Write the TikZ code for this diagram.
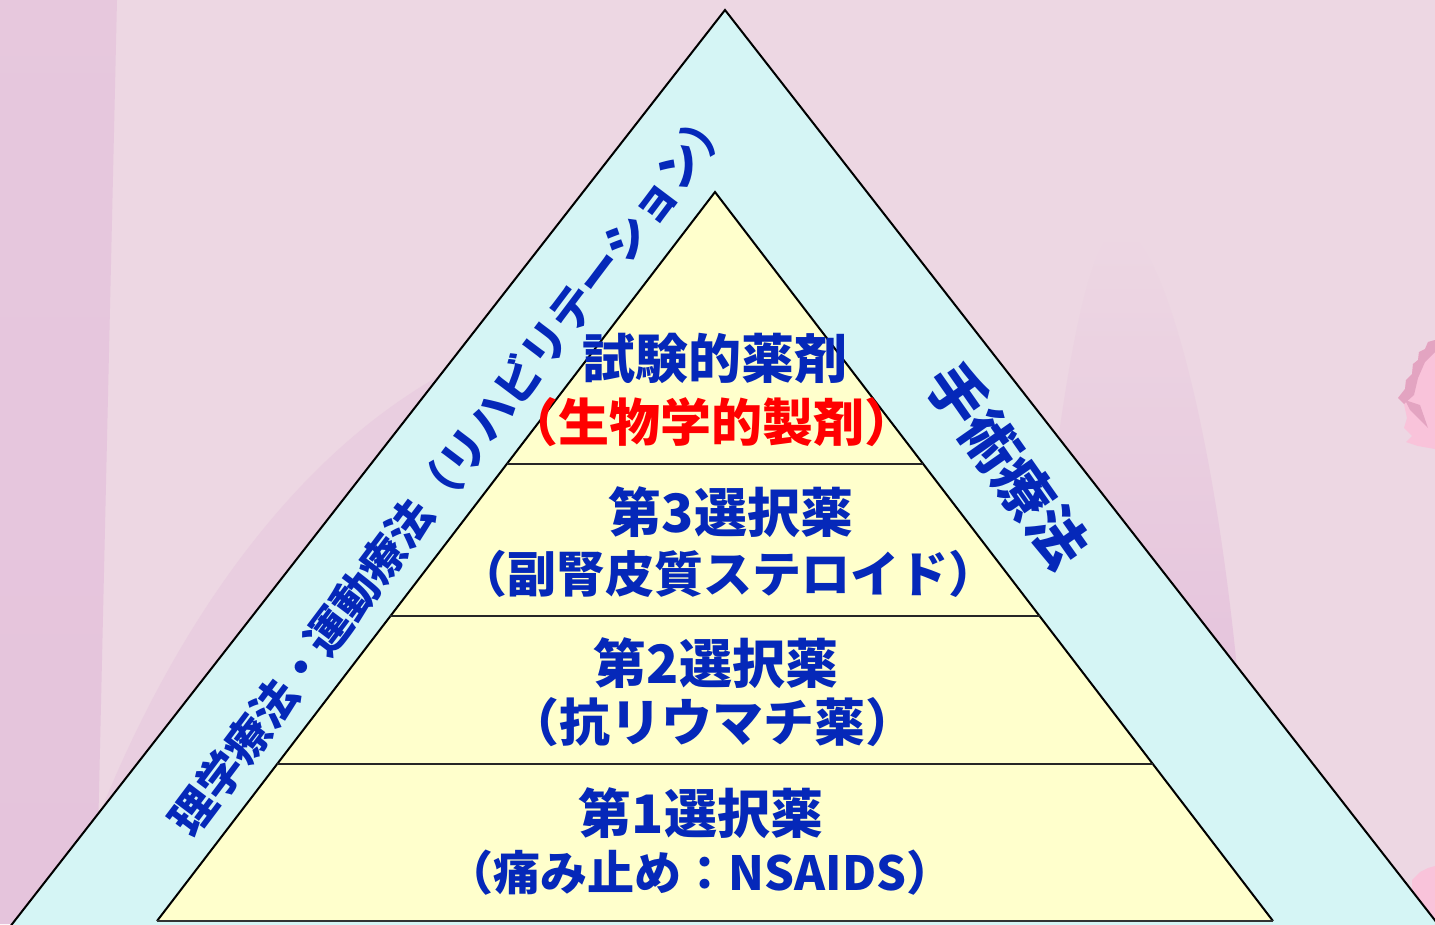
\documentclass[tikz,border=0pt]{standalone}
\usepackage{fontspec}
\usetikzlibrary{calc}
\newfontfamily\jpfont{Noto Sans CJK JP}
\definecolor{bgpink}{HTML}{EDD7E3}
\definecolor{stripe}{HTML}{E5C4DC}
\definecolor{conepink}{HTML}{E5C3DC}
\definecolor{bandcyan}{HTML}{D5F5F5}
\definecolor{stepyellow}{HTML}{FFFFCC}
\definecolor{textblue}{HTML}{0528B9}
\definecolor{textred}{HTML}{FF0000}
\definecolor{petal}{HTML}{F9C3DA}
\definecolor{petaldark}{HTML}{E3A4C1}
\newcommand\jpsize[1]{\jpfont\bfseries\fontsize{#1}{#1}\selectfont}
\tikzset{
  edge/.style={draw=black, line width=2pt, line join=miter},
  divider/.style={draw=black!85, line width=1.5pt},
  steptext/.style={text=textblue, font=\jpsize{53}, inner sep=0pt},
  subtext/.style={text=textblue, font=\jpsize{49}, inner sep=0pt},
  sidetext/.style={text=textblue, font=\jpsize{45}, inner sep=0pt},
}
\begin{document}
\begin{tikzpicture}[x=1pt,y=-1pt]
\useasboundingbox (0,0) rectangle (1435,924);
\clip (0,0) rectangle (1435,924);
% background
\fill[bgpink] (0,0) rectangle (1435,924);
\shade[top color=stripe!80!bgpink, bottom color=stripe] (0,0) -- (117,0) -- (96,924) -- (0,924) -- cycle;
\shade[top color=bgpink, bottom color=conepink] (1030,700) .. controls (1060,360) and (1090,230) .. (1120,230) .. controls (1160,230) and (1215,420) .. (1240,700) -- cycle;
\fill[conepink!45!bgpink] (60,924) .. controls (150,640) and (300,440) .. (470,360) -- (470,924) -- cycle;
% flowers at the right edge
\fill[petal] (1435,340) -- (1428,342) -- (1425,349) -- (1419,352) -- (1418,360) -- (1413,364) -- (1412,374) -- (1406,380) -- (1405,389) -- (1398,398) -- (1404,404) -- (1407,418) -- (1404,428) -- (1412,436) -- (1406,442) -- (1418,446) -- (1435,449) -- cycle;
\fill[petaldark] (1435,340) -- (1428,342) -- (1425,349) -- (1419,352) -- (1418,360) -- (1413,364) -- (1412,374) -- (1406,380) -- (1405,389) -- (1398,398) -- (1404,404) -- (1414,395) -- (1418,378) -- (1425,362) -- (1435,352) -- cycle;
\fill[petaldark] (1405,400) -- (1420,405) -- (1428,428) -- (1420,420) -- (1410,410) -- cycle;
\fill[petal] (1412,880) -- (1420,872) -- (1428,868) -- (1435,866) -- (1435,924) -- (1412,924) -- cycle;
% outer band and inner pyramid
\coordinate (outA) at (725,10);
\coordinate (outL) at (-44,996);
\coordinate (outR) at (1494,996);
\fill[bandcyan] (outA) -- (outL) -- (outR) -- cycle;
\draw[edge] (outL) -- (outA) -- (outR);
\coordinate (inA) at (715,192);
\coordinate (inL) at (157,921);
\coordinate (inR) at (1273,921);
\fill[stepyellow] (inA) -- (inL) -- (inR) -- cycle;
\draw[edge] (inL) -- (inA) -- (inR);
\draw[draw=black!80, line width=2.6pt] (inL) -- (inR);
% level dividers
\foreach \t/\n in {0.3731/a, 0.5816/b, 0.7846/c}{
  \coordinate (l\n) at ($(inA)!\t!(inL)$);
  \coordinate (r\n) at ($(inA)!\t!(inR)$);
  \draw[divider] (l\n) -- (r\n);
}
% level labels
\node[steptext] (t1) at (715,358) {試験的薬剤};
\node[subtext, text=textred, font=\jpsize{51}] (t1b) at (711,422) {（生物学的製剤）};
\node[steptext] (t2) at (731,512) {第3選択薬};
\node[subtext] (t2b) at (728,574) {（副腎皮質ステロイド）};
\node[steptext] (t3) at (716,663) {第2選択薬};
\node[subtext, font=\jpsize{51}] (t3b) at (712,722) {（抗リウマチ薬）};
\node[steptext] (t4) at (701,813) {第1選択薬};
\node[subtext, font=\jpsize{47}] (t4b) at (700,873) {（痛み止め：NSAIDS）};
% side labels
\node[sidetext, rotate=53] (left) at (450,470) {理学療法・運動療法（リハビリテーション）};
\node[sidetext, font=\jpsize{58}, rotate=-55] (right) at (1008,465) {手術療法};
\end{tikzpicture}
\end{document}
